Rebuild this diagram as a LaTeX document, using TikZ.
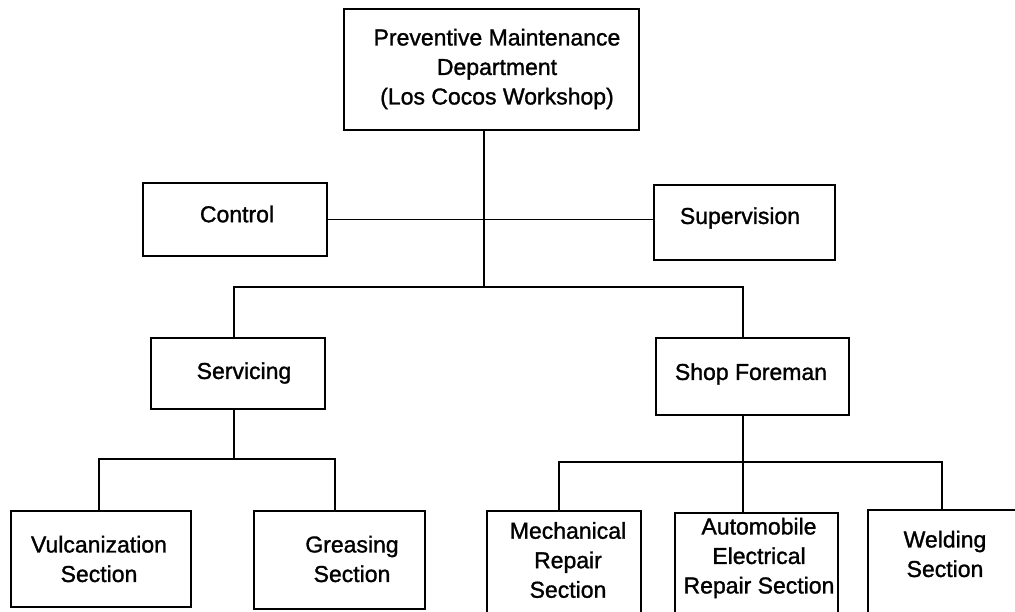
\documentclass[tikz,border=0pt]{standalone}
\usepackage{fontspec}
\setmainfont{Liberation Sans}
\newfontfamily\scanfont[FakeBold=1.3]{Liberation Sans}
\begin{document}
\begin{tikzpicture}[x=1pt,y=-1pt,
  box/.style={draw=black,line width=1.5pt,inner sep=0pt,minimum width=#1},
  lbl/.style={font=\scanfont\fontsize{23}{29.5}\selectfont,align=center,inner sep=0pt,text=black},
  conn/.style={draw=black,line width=1.5pt}]
\useasboundingbox[fill=white] (0,0) rectangle (1015,612);
% boxes
\node[box=295pt,minimum height=121pt] (top) at (491.5,69.5) {};
\node[lbl] (topT) at (497,69) {Preventive Maintenance\\Department\\(Los Cocos Workshop)};
\node[box=184pt,minimum height=73pt] (ctrl) at (235,219.5) {};
\node[lbl] (ctrlT) at (237,214) {Control};
\node[box=181pt,minimum height=75pt] (sup) at (744.5,222.5) {};
\node[lbl] (supT) at (740,218) {Supervision};
\node[box=174pt,minimum height=71pt] (srv) at (238,373.5) {};
\node[lbl] (srvT) at (244,373) {Servicing};
\node[box=193pt,minimum height=77pt] (shop) at (752.5,376.5) {};
\node[lbl] (shopT) at (751,374) {Shop Foreman};
\node[box=180pt,minimum height=96pt] (vul) at (101,559) {};
\node[lbl] (vulT) at (99,559) {Vulcanization\\Section};
\node[box=171pt,minimum height=98pt] (grs) at (339.5,560) {};
\node[lbl] (grsT) at (352,559) {Greasing\\Section};
\node[box=154pt,minimum height=129pt] (mech) at (564,575.5) {};
\node[lbl] (mechT) at (568,560) {Mechanical\\Repair\\Section};
\node[box=163pt,minimum height=127pt] (auto) at (756.5,576.5) {};
\node[lbl] (autoT) at (759,558) {Automobile\\Electrical\\Repair Section};
\node[box=162pt,minimum height=130pt] (weld) at (949,575) {};
\node[lbl] (weldT) at (945,554) {Welding\\Section};
% junction coordinates
\coordinate (j1) at (484,287);
\coordinate (bL) at (234,287);
\coordinate (bR) at (743,287);
\coordinate (sL) at (234,459);
\coordinate (vL) at (99,459);
\coordinate (gL) at (335,459);
\coordinate (fR) at (743,462);
\coordinate (mR) at (559,462);
\coordinate (wR) at (942,462);
% connectors
\draw[conn] (j1 |- top.south) -- (j1);
\draw[conn] (ctrl.east) -- (ctrl.east -| sup.west);
\draw[conn] (bL |- srv.north) -- (bL) -- (bR) -- (bR |- shop.north);
\draw[conn] (sL |- srv.south) -- (sL);
\draw[conn] (vL |- vul.north) -- (vL) -- (gL) -- (gL |- grs.north);
\draw[conn] (fR |- shop.south) -- (fR);
\draw[conn] (mR |- mech.north) -- (mR) -- (wR) -- (wR |- weld.north);
\draw[conn] (fR) -- (fR |- auto.north);
\end{tikzpicture}
\end{document}
